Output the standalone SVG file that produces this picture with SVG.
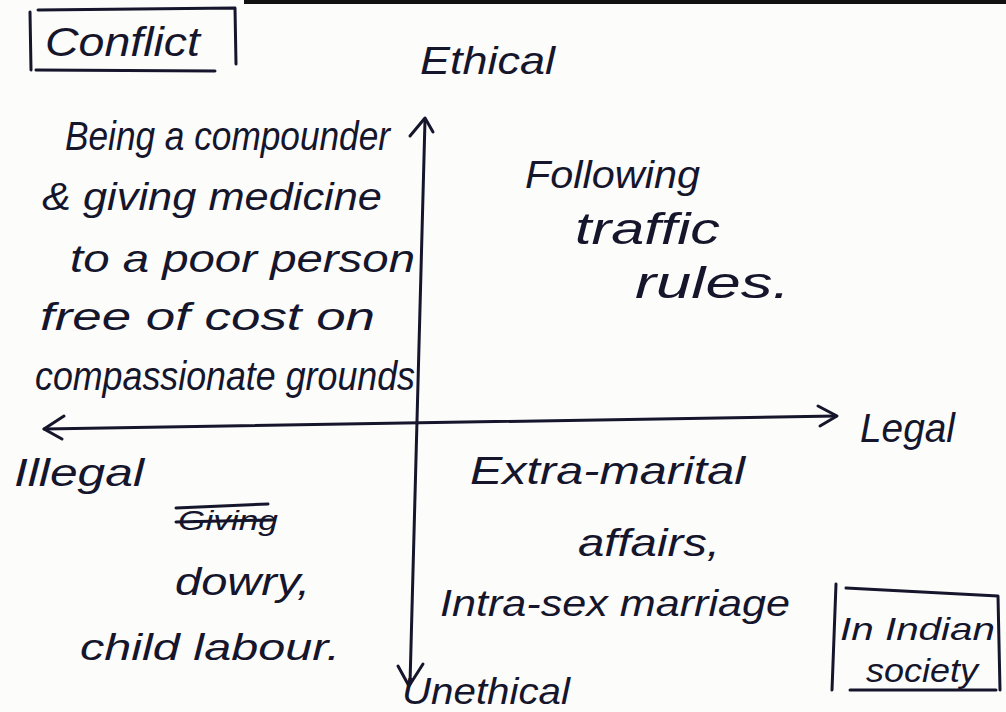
<svg xmlns="http://www.w3.org/2000/svg" width="1006" height="712" viewBox="0 0 1006 712">
<style>
.t{font-family:"Liberation Sans","DejaVu Sans",sans-serif;fill:#15152b;font-style:italic}
.s{stroke:#15152b;stroke-width:3;fill:none;stroke-linecap:round;stroke-linejoin:round}
</style>
<rect width="1006" height="712" fill="#fcfcfb"/>
<rect x="244" y="0" width="762" height="4" fill="#111"/>
<g id="connectors">
<path class="s" d="M425 120 L410 684"/>
<path class="s" d="M410 136 L425 118 L433 132"/>
<path class="s" d="M398 666 L409 686 L423 664"/>
<path class="s" d="M44 429 L836 416"/>
<path class="s" d="M64 416 L44 429 L62 439"/>
<path class="s" d="M818 406 L837 416 L820 426"/>
</g>
<g id="conflict">
<path class="s" d="M30 12 L31 70 M38 10 L235 8 L236 64 M36 70 L215 71"/>
<text class="t" x="45" y="56" font-size="40" textLength="155" lengthAdjust="spacingAndGlyphs">Conflict</text>
</g>
<g id="ethical"><text class="t" x="420" y="74" font-size="38" textLength="135" lengthAdjust="spacingAndGlyphs">Ethical</text></g>
<g id="unethical"><text class="t" x="402" y="704" font-size="36" textLength="168" lengthAdjust="spacingAndGlyphs">Unethical</text></g>
<g id="legal"><text class="t" x="860" y="442" font-size="40" textLength="95" lengthAdjust="spacingAndGlyphs">Legal</text></g>
<g id="illegal"><text class="t" x="14" y="486" font-size="38" textLength="130" lengthAdjust="spacingAndGlyphs">Illegal</text></g>
<g id="top-left">
<text class="t" x="65" y="150" font-size="40" textLength="325" lengthAdjust="spacingAndGlyphs">Being a compounder</text>
<text class="t" x="42" y="210" font-size="38" textLength="340" lengthAdjust="spacingAndGlyphs">&amp; giving medicine</text>
<text class="t" x="70" y="272" font-size="38" textLength="345" lengthAdjust="spacingAndGlyphs">to a poor person</text>
<text class="t" x="40" y="330" font-size="38" textLength="335" lengthAdjust="spacingAndGlyphs">free of cost  on</text>
<text class="t" x="35" y="390" font-size="40" textLength="380" lengthAdjust="spacingAndGlyphs">compassionate grounds</text>
</g>
<g id="top-right">
<text class="t" x="525" y="188" font-size="38" textLength="175" lengthAdjust="spacingAndGlyphs">Following</text>
<text class="t" x="575" y="244" font-size="44" textLength="145" lengthAdjust="spacingAndGlyphs">traffic</text>
<text class="t" x="635" y="298" font-size="44" textLength="155" lengthAdjust="spacingAndGlyphs">rules.</text>
</g>
<g id="bottom-left">
<text class="t" x="178" y="530" font-size="28" textLength="100" lengthAdjust="spacingAndGlyphs">Giving</text>
<path class="s" stroke-width="2" d="M176 508 L268 504 M176 522 L272 520"/>
<text class="t" x="175" y="595" font-size="38" textLength="135" lengthAdjust="spacingAndGlyphs">dowry,</text>
<text class="t" x="80" y="660" font-size="36" textLength="260" lengthAdjust="spacingAndGlyphs">child labour.</text>
</g>
<g id="bottom-right">
<text class="t" x="470" y="484" font-size="38" textLength="275" lengthAdjust="spacingAndGlyphs">Extra-marital</text>
<text class="t" x="578" y="556" font-size="38" textLength="142" lengthAdjust="spacingAndGlyphs">affairs,</text>
<text class="t" x="440" y="616" font-size="36" textLength="350" lengthAdjust="spacingAndGlyphs">Intra-sex marriage</text>
</g>
<g id="indian-society">
<path class="s" d="M836 584 L832 690 M846 588 L998 596 L1000 690 M850 690 L996 690"/>
<text class="t" x="840" y="640" font-size="32" textLength="155" lengthAdjust="spacingAndGlyphs">In Indian</text>
<text class="t" x="866" y="682" font-size="34" textLength="112" lengthAdjust="spacingAndGlyphs">society</text>
</g>
</svg>
